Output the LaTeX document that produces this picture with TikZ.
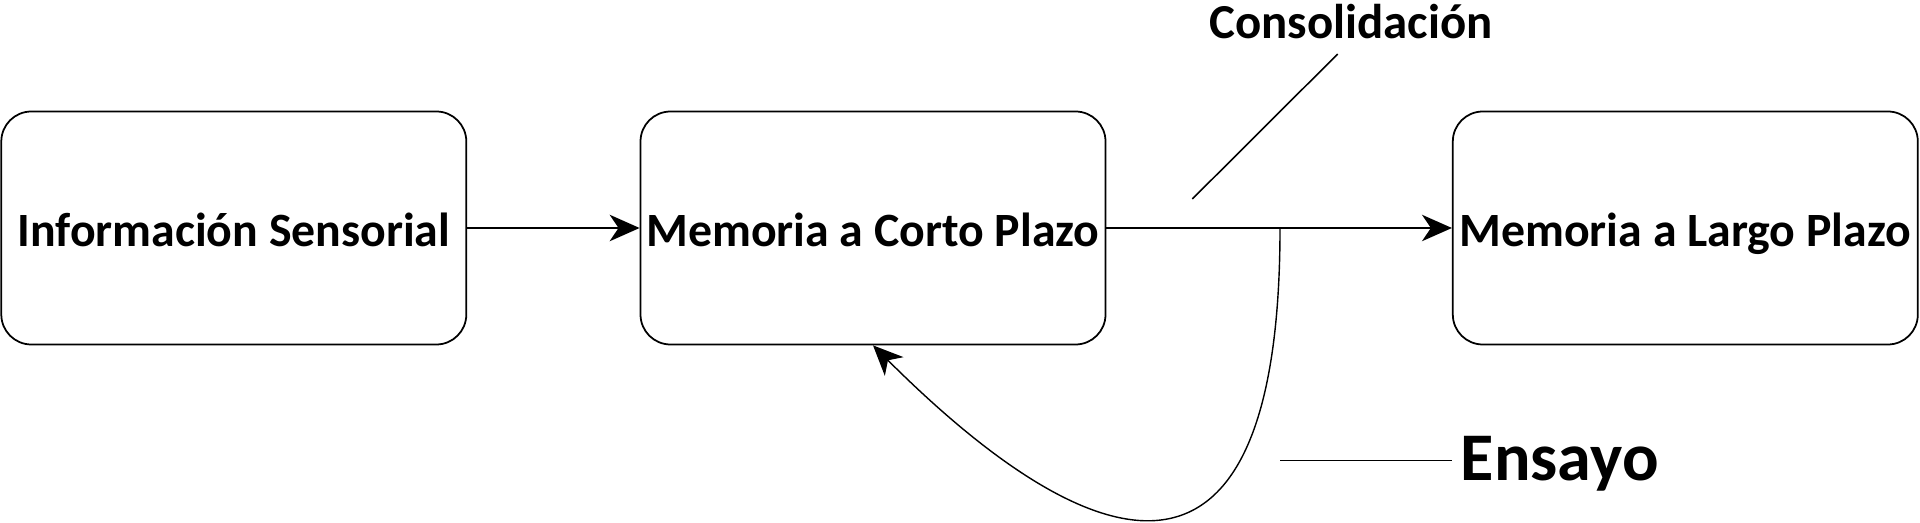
\documentclass[tikz,border=0pt]{standalone}
\usepackage{fontspec}
\setmainfont{Carlito}
\usetikzlibrary{arrows.meta}

\begin{document}
\begin{tikzpicture}[>={Stealth[length=8.5pt,width=7.5pt,inset=2.5pt]}, line width=0.45pt,
	caja/.style={draw, rounded corners=0.3cm, inner sep=0pt, text height=10.6pt, text depth=0pt, minimum width=4.65cm, minimum height=2.33cm, line width=0.5pt, font=\fontsize{13.6}{16}\selectfont\bfseries},
	etiqueta/.style={inner sep=0pt, font=\fontsize{13.9}{16}\selectfont\bfseries}]
	% Margen
	\useasboundingbox (0,0) rectangle (19.2,-5.23);
	
	% Cajas
	\node[caja] (sens) at (2.338,-2.28) {Información Sensorial};
	\node[caja] (corto) at (8.73,-2.28) {Memoria a Corto Plazo};
	\node[caja] (largo) at (16.853,-2.28) {Memoria a Largo Plazo};
	
	% Flechas
	\draw[->, line width=0.85pt] (sens.east) -- (corto.west);
	\draw[->] (corto.east) -- (largo.west);
	
	% Consolidación
	\node[etiqueta, anchor=base] (cons) at (13.51,-0.383) {Consolidación};
	\coordinate (c1) at (11.923,-1.99);
	\coordinate (c2) at (13.377,-0.54);
	\draw (c1) -- (c2);
	
	% Ensayo (bucle de repaso)
	\coordinate (rep) at (12.8,-2.28);
	\draw[->, line width=0.4pt] (rep) .. controls (12.8,-6.4) and (10.8,-5.52) .. (corto.south);
	\node[etiqueta, anchor=base west, font=\fontsize{19.4}{22}\selectfont\bfseries] (ensayo) at (14.6,-4.807) {Ensayo};
	\coordinate (ens) at (12.8,-4.604);
	\draw (ens) -- (ens -| largo.west);
\end{tikzpicture}
\end{document}
